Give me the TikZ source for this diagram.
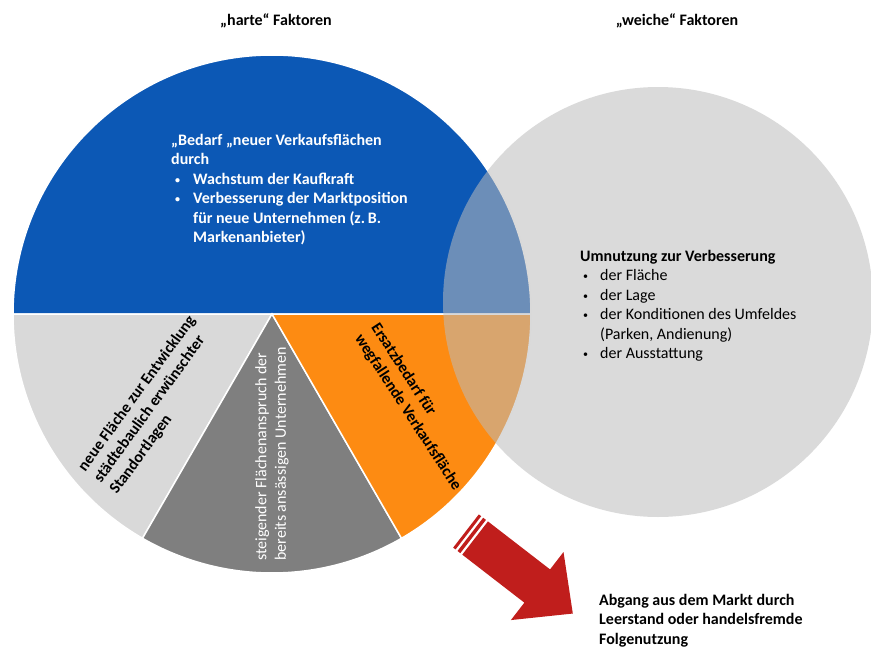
\documentclass[tikz,border=0pt]{standalone}
\usepackage{fontspec}
\setmainfont{Carlito}
\definecolor{pieblue}{RGB}{12,88,181}
\definecolor{pieorange}{RGB}{253,139,18}
\definecolor{pielight}{RGB}{217,217,217}
\definecolor{piedark}{RGB}{127,127,127}
\definecolor{softgrey}{RGB}{187,187,187}
\definecolor{arrowred}{RGB}{192,30,28}
% small bullet with hanging indent for the list items
\newcommand{\smallbul}{\raisebox{0.15ex}{\fontsize{10}{10}\selectfont\textbullet}}
\newcommand{\blitem}{\makebox[22pt][l]{\hspace{4pt}\smallbul}}
\newcommand{\blindent}{\hspace*{22pt}}
\newcommand{\rtitem}{\makebox[20pt][l]{\hspace{3pt}\smallbul}}
\newcommand{\rtindent}{\hspace*{20pt}}
\begin{document}
\begin{tikzpicture}[x=1pt,y=1pt,
  txt/.style={inner sep=0pt, align=left, font=\fontsize{16}{19.5}\selectfont},
  boldtxt/.style={inner sep=0pt, align=left, font=\fontsize{16}{19.5}\selectfont\bfseries},
  sector/.style={draw=white, line width=1.5pt}]
\useasboundingbox (0,0) rectangle (871,-648);

% left circle: pie of the "hard" factors
\coordinate (hc) at (272,-314);
\def\hr{259}
\fill[pieblue, sector] (hc) -- ++(0:\hr) arc[start angle=0, end angle=180, radius=\hr] -- cycle;
\fill[pielight, sector] (hc) -- ++(180:\hr) arc[start angle=180, end angle=240, radius=\hr] -- cycle;
\fill[piedark, sector] (hc) -- ++(240:\hr) arc[start angle=240, end angle=300, radius=\hr] -- cycle;
\fill[pieorange, sector] (hc) -- ++(300:\hr) arc[start angle=300, end angle=360, radius=\hr] -- cycle;

% right circle: the "soft" factors, translucent over the pie
\coordinate (sc) at (658,-302);
\fill[softgrey, fill opacity=0.55] (sc) circle[radius=215];

% outflow arrow with striped tail
\begin{scope}[shift={(466,-531)}, rotate=-37.7]
  \fill[arrowred] (0,-21) rectangle (3,21);
  \fill[arrowred] (5.5,-21) rectangle (9,21);
  \fill[arrowred] (11.5,21) -- (90,21) -- (90,43) -- (135,0) -- (90,-43) -- (90,-21) -- (11.5,-21) -- cycle;
\end{scope}

% headings
\node[boldtxt] (harte) at (276,-21) {„harte“ Faktoren};
\node[boldtxt] (weiche) at (677,-21) {„weiche“ Faktoren};

% texts inside the pie
\node[boldtxt, text=white, anchor=north west] (bedarf) at (171,-134)
  {„Bedarf „neuer Verkaufsflächen\\
   durch\\
   \blitem Wachstum der Kaufkraft\\
   \blitem Verbesserung der Marktposition\\
   \blindent für neue Unternehmen (z.\,B.\\
   \blindent Markenanbieter)};

\node[boldtxt, rotate=54] (neue) at (153,-405)
  {neue Fläche zur Entwicklung\\ städtebaulich erwünschter\\ Standortlagen};

\node[txt, text=white, rotate=90] (steigend) at (272,-454)
  {steigender Flächenanspruch der\\ bereits ansässigen Unternehmen};

\node[boldtxt, rotate=-57] (ersatz) at (416,-407)
  {Ersatzbedarf für\\ wegfallende Verkaufsfläche};

% text inside the right circle
\node[txt, anchor=north west] (umnutzung) at (580,-250)
  {\textbf{Umnutzung zur Verbesserung}\\
   \rtitem der Fläche\\
   \rtitem der Lage\\
   \rtitem der Konditionen des Umfeldes\\
   \rtindent (Parken, Andienung)\\
   \rtitem der Ausstattung};

% text at the arrow head
\node[boldtxt, anchor=north west] (abgang) at (599,-594)
  {Abgang aus dem Markt durch\\ Leerstand oder handelsfremde\\ Folgenutzung};
\end{tikzpicture}
\end{document}
